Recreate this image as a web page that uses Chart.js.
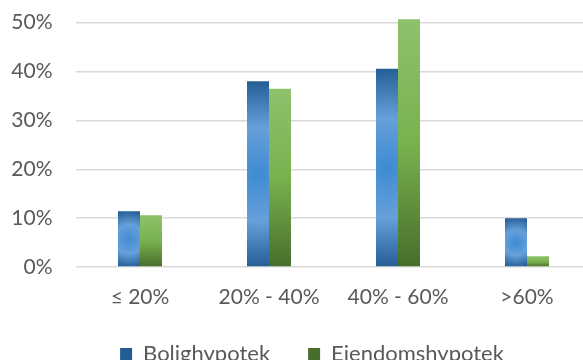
<!DOCTYPE html>
<html>
<head>
<meta charset="utf-8">
<script src="https://cdn.jsdelivr.net/npm/chart.js@4/dist/chart.umd.min.js"></script>
<style>
  html, body { margin: 0; padding: 0; background: #fff; overflow: hidden; }
  .chart-wrap { position: relative; width: 624px; height: 375px; }
</style>
</head>
<body>
<div class="chart-wrap"><canvas id="chart"></canvas></div>
<script>
  // data
  const categories = ['≤ 20%', '20% - 40%', '40% - 60%', '>60%'];
  const seriesNames = ['Bolighypotek', 'Eiendomshypotek'];
  const bolighypotek = [11.4, 38.0, 40.6, 10.0];
  const eiendomshypotek = [10.6, 36.5, 50.7, 2.2];
  const yMax = 50;
  const yStep = 10;

  const textColor = '#595959';
  const groupPct = 0.341;

  Chart.defaults.font.family = 'Lato, "Open Sans", sans-serif';
  Chart.defaults.font.size = 22;
  Chart.defaults.color = textColor;

  const ok = (...nums) => nums.every((n) => Number.isFinite(n));

  /**
   * blue bars: dark rim, light ring, brighter centre
   */
  const blueFill = (ctx) => {
    if (ctx.type !== 'data') return '#4a86c8';
    const chart = ctx.chart,
      x = chart.scales.x,
      y = chart.scales.y;
    if (!x || !y) return '#4a86c8';
    const top = y.getPixelForValue(ctx.raw),
      base = y.getPixelForValue(0),
      slot = x.width / categories.length * groupPct / 2,
      cx = x.getPixelForValue(ctx.dataIndex) - slot / 2,
      cy = (top + base) / 2,
      r = Math.max((base - top) / 2, slot / 2) + 1;
    if (!ok(top, base, slot, cx, cy, r) || r <= 0) return '#4a86c8';
    const g = chart.ctx.createRadialGradient(cx, cy, 0, cx, cy, r);
    g.addColorStop(0, '#3f8bd2');
    g.addColorStop(0.5, '#66a0da');
    g.addColorStop(1, '#245d94');
    return g;
  };

  /**
   * green bars: light top, dark bottom
   */
  const greenFill = (ctx) => {
    if (ctx.type !== 'data') return '#70ad47';
    const chart = ctx.chart,
      y = chart.scales.y;
    if (!y) return '#70ad47';
    const top = y.getPixelForValue(ctx.raw),
      base = y.getPixelForValue(0);
    if (!ok(top, base)) return '#70ad47';
    const g = chart.ctx.createLinearGradient(0, top, 0, base);
    g.addColorStop(0, '#8fc16c');
    g.addColorStop(0.5, '#78b24e');
    g.addColorStop(1, '#486d2c');
    return g;
  };

  new Chart(document.getElementById('chart'), {
    type: 'bar',
    data: {
      labels: categories,
      datasets: [{
        label: seriesNames[0],
        data: bolighypotek,
        backgroundColor: blueFill,
        categoryPercentage: groupPct,
        barPercentage: 1,
        clip: false
      }, {
        label: seriesNames[1],
        data: eiendomshypotek,
        backgroundColor: greenFill,
        categoryPercentage: groupPct,
        barPercentage: 1,
        clip: false
      }]
    },
    options: {
      responsive: true,
      maintainAspectRatio: false,
      animation: false,
      layout: {
        padding: { top: 22.7, right: 0, left: 0, bottom: 0 }
      },
      plugins: {
        tooltip: { enabled: false },
        legend: {
          position: 'bottom',
          labels: {
            boxWidth: 12,
            boxHeight: 12,
            padding: 38,
            color: textColor
          }
        }
      },
      scales: {
        x: {
          afterFit: (scale) => { scale.height = 38; },
          grid: { display: false },
          border: { display: false },
          ticks: { padding: 10, color: textColor, font: { size: 21 } }
        },
        y: {
          min: 0,
          max: yMax,
          afterFit: (scale) => {
            scale.width = 75.5;
            scale.paddingTop = 0;
            scale.paddingBottom = 0;
          },
          grid: { color: '#d9d9d9', lineWidth: 1.5, drawTicks: false },
          border: { display: false },
          ticks: {
            stepSize: yStep,
            padding: 23,
            color: textColor,
            font: { size: 21 },
            callback: (v) => v + '%'
          }
        },
        // empty right-hand axis, keeps the right margin so the legend centres like the original
        yRight: {
          position: 'right',
          afterFit: (scale) => { scale.width = 32.5; },
          grid: { display: false },
          border: { display: false },
          ticks: { display: false }
        }
      }
    }
  });
</script>
</body>
</html>
